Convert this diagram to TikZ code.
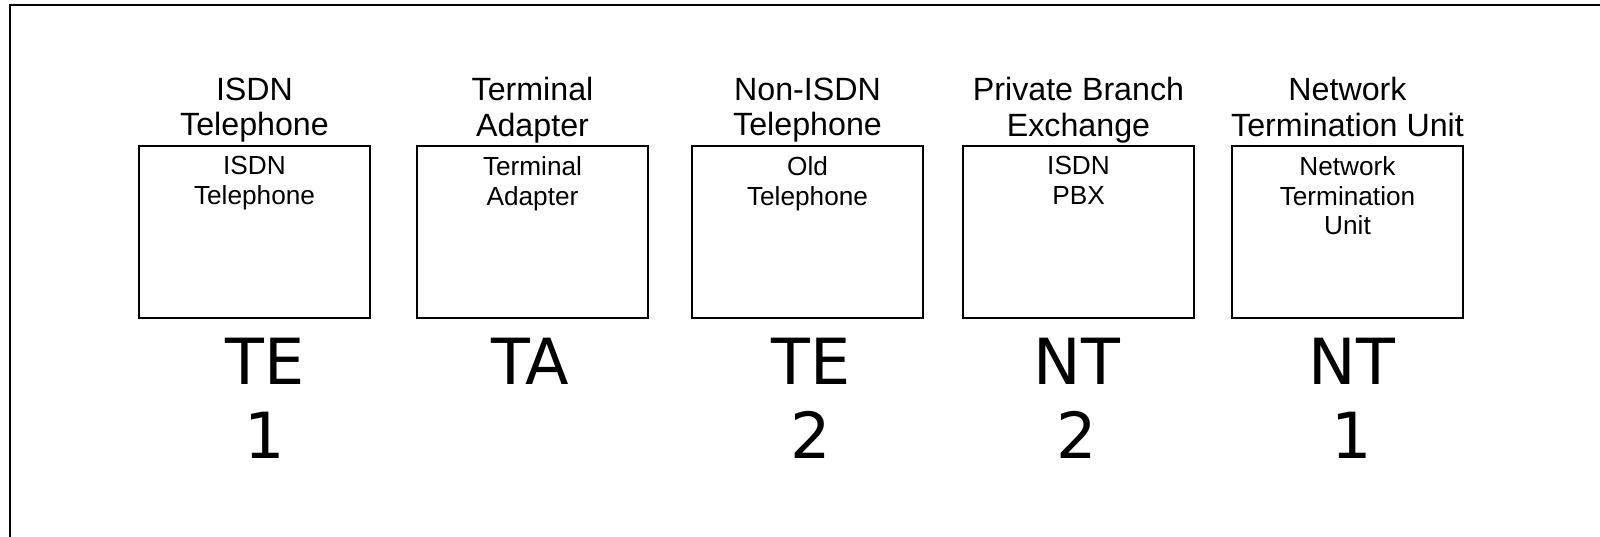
\documentclass[tikz,border=0pt]{standalone}
\usepackage{fontspec}
\setmainfont{Liberation Sans}
\newfontfamily\reffont{DejaVu Sans}
\usetikzlibrary{calc}
\begin{document}
\begin{tikzpicture}[x=0.5pt,y=-0.5pt,
  unitbox/.style={draw,line width=0.65pt,minimum width=115.5pt,minimum height=86pt,inner sep=0pt},
  toplabel/.style={anchor=north,align=center,inner sep=0pt,font=\fontsize{16.1}{17.65}\selectfont},
  innerlabel/.style={anchor=north,align=center,inner sep=0pt,font=\fontsize{13.1}{14.8}\selectfont},
  reflabel/.style={anchor=north,align=center,inner sep=0pt,font=\reffont\fontsize{31.8}{36.9}\selectfont}]
\useasboundingbox (0,0) rectangle (1600,536);
\clip (0,0) rectangle (1600,536);
% outer frame, running past the right and bottom edges
\draw[line width=1pt] (10,5) rectangle (1640,580);

% device boxes
\node[unitbox] (b1) at (254.5,232) {};
\node[unitbox] (b2) at (532.5,232) {};
\node[unitbox] (b3) at (807.5,232) {};
\node[unitbox] (b4) at (1078.5,232) {};
\node[unitbox] (b5) at (1347.5,232) {};

% captions above the boxes
\node[toplabel] (t1) at ($(b1.north)+(0,-68.2)$) {ISDN\\Telephone};
\node[toplabel] (t2) at ($(b2.north)+(0,-68.2)$) {Terminal\\Adapter};
\node[toplabel] (t3) at ($(b3.north)+(0,-68.2)$) {Non-ISDN\\Telephone};
\node[toplabel] (t4) at ($(b4.north)+(0,-68.2)$) {Private Branch\\Exchange};
\node[toplabel] (t5) at ($(b5.north)+(0,-68.2)$) {Network\\Termination Unit};

% text inside the boxes
\node[innerlabel] (i1) at ($(b1.north)+(0,10.8)$) {ISDN\\Telephone};
\node[innerlabel] (i2) at ($(b2.north)+(0,10.8)$) {Terminal\\Adapter};
\node[innerlabel] (i3) at ($(b3.north)+(0,10.8)$) {Old\\Telephone};
\node[innerlabel] (i4) at ($(b4.north)+(0,10.8)$) {ISDN\\PBX};
\node[innerlabel] (i5) at ($(b5.north)+(0,10.8)$) {Network\\Termination\\Unit};

% reference point designations
\node[reflabel] (r1) at (265,337.5) {TE\\1};
\node[reflabel] (r2) at (530.5,337.5) {TA};
\node[reflabel] (r3) at (811,337.5) {TE\\2};
\node[reflabel] (r4) at (1077,337.5) {NT\\2};
\node[reflabel] (r5) at (1352,337.5) {NT\\1};
\end{tikzpicture}
\end{document}
